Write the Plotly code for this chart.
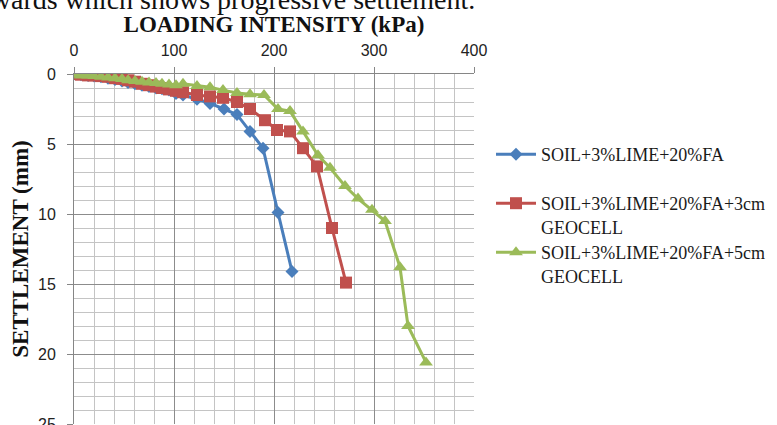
import plotly.graph_objects as go

# Loading intensity (kPa) and settlement (mm) for each mix
load_soil = [0, 7, 14, 20, 27, 34, 41, 48, 54, 61, 68, 75, 82, 88, 95, 102, 109,
             123, 136, 150, 163, 176, 189, 204, 218]
settle_soil = [0.0, 0.05, 0.1, 0.15, 0.2, 0.3, 0.4, 0.5, 0.6, 0.7, 0.8, 0.9, 1.0, 1.05, 1.15, 1.4, 1.5,
               1.8, 2.1, 2.5, 2.9, 4.1, 5.3, 9.9, 14.1]

load_geo3 = [0, 7, 14, 20, 27, 34, 41, 48, 54, 61, 68, 75, 82, 88, 95, 102, 109,
             123, 136, 149, 163, 176, 191, 203, 216, 229, 243, 258, 272]
settle_geo3 = [0.0, 0.05, 0.1, 0.1, 0.15, 0.2, 0.3, 0.35, 0.45, 0.55, 0.7, 0.8, 0.9, 1.0, 1.1, 1.2, 1.3,
               1.5, 1.6, 1.7, 2.0, 2.5, 3.3, 4.0, 4.1, 5.3, 6.6, 11.0, 14.9]

load_geo5 = [0, 7, 14, 20, 27, 34, 41, 48, 54, 61, 68, 75, 82, 88, 95, 102, 109,
             123, 136, 149, 163, 176, 190, 204, 216, 229, 244, 256, 271, 284, 298, 311, 326, 334, 352]
settle_geo5 = [0.05, 0.1, 0.1, 0.15, 0.2, 0.25, 0.3, 0.35, 0.45, 0.5, 0.55, 0.6, 0.65, 0.7, 0.75, 0.8, 0.7,
               0.85, 0.95, 1.15, 1.35, 1.45, 1.5, 2.5, 2.65, 4.1, 5.8, 6.7, 8.0, 8.9, 9.7, 10.5, 13.8, 18.0, 20.6]

names = [
    "SOIL+3%LIME+20%FA",
    "SOIL+3%LIME+20%FA+3cm<br>GEOCELL",
    "SOIL+3%LIME+20%FA+5cm<br>GEOCELL",
]
colors = ["#4A7EBB", "#C0504D", "#9BBB59"]
symbols = ["diamond", "square", "triangle-up"]
sizes = [10, 12, 12]
legend_ids = ["legend", "legend2", "legend3"]
legend_tops = [136, 185, 234]  # pixel row of each legend box top

series = [(load_soil, settle_soil), (load_geo3, settle_geo3), (load_geo5, settle_geo5)]

fig = go.Figure()
for (xs, ys), name, c, sym, sz, lg in zip(series, names, colors, symbols, sizes, legend_ids):
    fig.add_trace(go.Scatter(
        x=xs, y=ys, name=name, mode="lines+markers",
        line=dict(color=c, width=3),
        marker=dict(symbol=sym, size=sz, color=c),
        legend=lg,
    ))

W, H = 777, 425
L, T, PW, PH = 74, 74, 400, 350

serif = "Liberation Serif, Times New Roman, serif"
sans = "Liberation Sans, Arial, sans-serif"

legend_style = dict(
    xanchor="left", yanchor="top",
    font=dict(family=serif, size=18, color="#1a1a1a"),
    valign="top", itemwidth=40, bgcolor="rgba(0,0,0,0)",
)
legends = {
    lg: dict(x=(491 - L) / PW, y=(T + PH - top) / PH, **legend_style)
    for lg, top in zip(legend_ids, legend_tops)
}

fig.update_layout(
    width=W, height=H,
    margin=dict(l=L, r=W - L - PW, t=T, b=H - T - PH),
    paper_bgcolor="white", plot_bgcolor="white",
    showlegend=True,
    **legends,
    xaxis=dict(
        side="top", range=[0, 400], dtick=100, tick0=0, automargin=False,
        showline=True, linecolor="#868686", linewidth=1,
        ticks="outside", ticklen=6, tickcolor="#868686",
        ticklabelstandoff=5, ticklabeloverflow="allow",
        showgrid=True, gridcolor="#8c8c8c", gridwidth=1,
        minor=dict(dtick=20, showgrid=True, gridcolor="#c4c4c4", gridwidth=1),
        tickfont=dict(family=sans, size=16, color="#222"),
        zeroline=False,
        title=dict(text="<b>LOADING INTENSITY (kPa)</b>",
                   font=dict(family=serif, size=23, color="#111"), standoff=2),
    ),
    yaxis=dict(
        range=[25, 0], dtick=5, tick0=0, automargin=False,
        showline=True, linecolor="#868686", linewidth=1,
        ticks="outside", ticklen=6, tickcolor="#868686",
        ticklabelstandoff=8, ticklabeloverflow="allow",
        showgrid=True, gridcolor="#8c8c8c", gridwidth=1,
        minor=dict(dtick=1, showgrid=True, gridcolor="#c4c4c4", gridwidth=1),
        tickfont=dict(family=sans, size=16, color="#222"),
        zeroline=False,
        title=dict(text="<b>SETTLEMENT (mm)</b>",
                   font=dict(family=serif, size=23, color="#111"), standoff=2),
    ),
    annotations=[dict(
        text="towards which shows progressive settlement.",
        xref="paper", yref="paper",
        x=(477 - L) / PW, y=(T + PH + 1) / PH,
        xanchor="right", yanchor="middle", showarrow=False,
        font=dict(family=serif, size=28, color="#111"),
    )],
)

fig.write_html("out.html")
